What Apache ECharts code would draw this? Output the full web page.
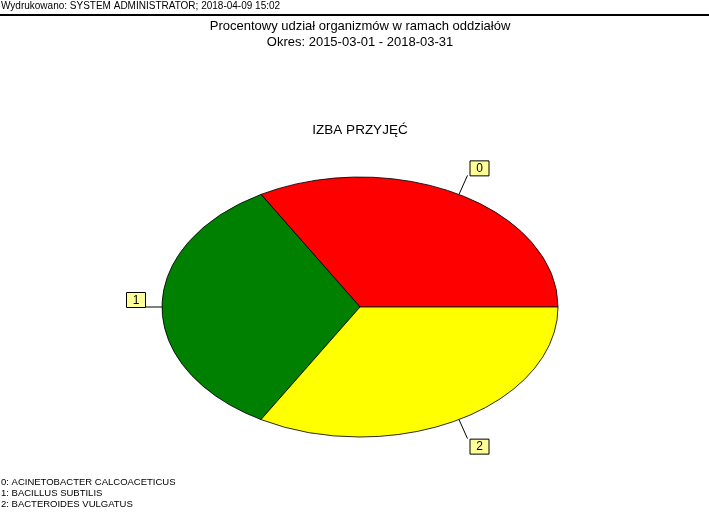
<!DOCTYPE html>
<html>
<head>
<meta charset="utf-8">
<script src="https://cdn.jsdelivr.net/npm/echarts@6/dist/echarts.min.js"></script>
<style>
html, body { margin: 0; padding: 0; background: #fff; }
#chart { width: 709px; height: 519px; }
</style>
</head>
<body>
<div id="chart"></div>
<script>
var names = ['ACINETOBACTER CALCOACETICUS', 'BACILLUS SUBTILIS', 'BACTEROIDES VULGATUS'];
var values = [1, 1, 1];
var colors = ['#ff0000', '#008000', '#ffff00'];

var chart = echarts.init(document.getElementById('chart'));

var total = values.reduce(function (a, b) { return a + b; }, 0);
var starts = [];
var acc = 0;
values.forEach(function (v) {
	starts.push(acc);
	acc += v;
});

var cx = 360, cy = 307, rx = 198, ry = 130;

var renderSlice = function (params, api) {
	var i = params.dataIndex;
	var a0 = starts[i] / total * Math.PI * 2;
	var a1 = (starts[i] + values[i]) / total * Math.PI * 2;
	var mid = (a0 + a1) / 2;
	var c = Math.cos(mid), s = Math.sin(mid);
	// leader line from the ellipse edge outwards
	var px = cx + rx * c, py = cy - ry * s;
	var ex = px + 17 * c, ey = py - 22 * s;
	var bw = 19, bh = 15;
	var bx = c >= -0.01 ? ex + 2 : ex - bw;
	var by = s >= -0.01 ? ey - bh : ey;
	return {
		type: 'group',
		children: [
			{
				type: 'sector',
				shape: { cx: cx, cy: cy, r: rx, r0: 0, startAngle: -a1, endAngle: -a0, clockwise: true },
				originX: cx,
				originY: cy,
				scaleY: ry / rx,
				style: { fill: colors[i], stroke: '#000', lineWidth: 1, strokeNoScale: true }
			},
			{
				type: 'line',
				shape: { x1: px, y1: py, x2: ex, y2: ey },
				style: { stroke: '#000', lineWidth: 1 }
			},
			{
				type: 'rect',
				shape: { x: bx + 0.5, y: by + 0.5, width: bw, height: bh },
				style: { fill: '#ffff99', stroke: '#000', lineWidth: 1 }
			},
			{
				type: 'text',
				style: {
					text: String(i),
					x: bx + bw / 2 + 0.5,
					y: by + bh / 2 + 1,
					align: 'center',
					verticalAlign: 'middle',
					font: '12px Arial, "Liberation Sans", sans-serif',
					fill: '#000'
				}
			}
		]
	};
};

var legendText = names.map(function (n, i) { return i + ': ' + n; }).join('\n');

var option = {
	backgroundColor: '#fff',
	animation: false,
	title: [
		{
			text: 'Wydrukowano: SYSTEM ADMINISTRATOR; 2018-04-09 15:02',
			left: 0,
			top: -1,
			padding: [2, 1],
			textStyle: { fontSize: 10, fontWeight: 'normal', color: '#000', fontFamily: 'Arial, "Liberation Sans", sans-serif' }
		},
		{
			text: 'Procentowy udział organizmów w ramach oddziałów\nOkres: 2015-03-01 - 2018-03-31',
			left: 360,
			top: 18,
			padding: 0,
			textAlign: 'center',
			textStyle: { fontSize: 13, lineHeight: 16, fontWeight: 'normal', color: '#000', fontFamily: 'Arial, "Liberation Sans", sans-serif', align: 'center' }
		},
		{
			text: 'IZBA PRZYJĘĆ',
			left: 360,
			top: 123,
			padding: 0,
			textAlign: 'center',
			textStyle: { fontSize: 13.5, fontWeight: 'normal', color: '#000', fontFamily: 'Arial, "Liberation Sans", sans-serif' }
		},
		{
			text: legendText,
			left: 1,
			top: 477,
			padding: 0,
			textStyle: { fontSize: 9.5, lineHeight: 11, fontWeight: 'normal', color: '#000', fontFamily: 'Arial, "Liberation Sans", sans-serif' }
		}
	],
	graphic: [
		{
			type: 'line',
			shape: { x1: 0, y1: 15, x2: 709, y2: 15 },
			style: { stroke: '#000', lineWidth: 2 }
		}
	],
	series: [
		{
			type: 'custom',
			coordinateSystem: 'none',
			renderItem: renderSlice,
			data: values.map(function (v, i) { return { name: names[i], value: v }; })
		}
	]
};

chart.setOption(option);
</script>
</body>
</html>
